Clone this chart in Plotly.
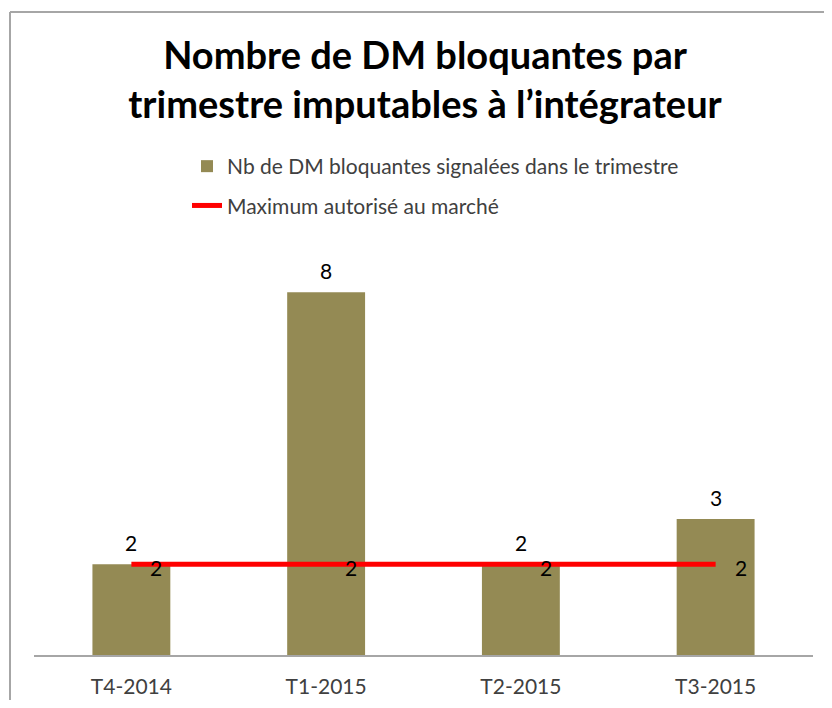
import plotly.graph_objects as go

# Data
categories = ["T4-2014", "T1-2015", "T2-2015", "T3-2015"]
dm_bloquantes = [2, 8, 2, 3]
maximum_autorise = [2, 2, 2, 2]
bar_name = "Nb de DM bloquantes signalées dans le trimestre"
line_name = "Maximum autorisé au marché"
title_text = "Nombre de DM bloquantes par<br>trimestre imputables à l’intégrateur"

FONT = "Lato, Calibri, Carlito, sans-serif"
OLIVE = "#948A54"
RED = "#FF0000"

# page has an 8px body margin -> figure is 816x692
W, H = 816, 692
L, R, T, B = 26, 11, 239, 45
pw, ph = W - L - R, H - T - B


def px(x):
    return (x - L) / pw


def py(y):
    return (H - B - y) / ph


fig = go.Figure()
fig.add_trace(go.Bar(
    x=categories, y=dm_bloquantes, name=bar_name,
    marker=dict(color=OLIVE, line=dict(width=0)),
    width=0.4, legendgroup="a",
))
fig.add_trace(go.Scatter(
    x=categories, y=maximum_autorise, name=line_name, mode="lines",
    line=dict(color=RED, width=5), legendgroup="b",
))

annotations = []
for c, v in zip(categories, dm_bloquantes):
    annotations.append(dict(x=c, y=v, text=str(v), showarrow=False,
                            yshift=22, font=dict(family=FONT, size=21, color="#000000")))
for c, v in zip(categories, maximum_autorise):
    annotations.append(dict(x=c, y=v, text=str(v), showarrow=False,
                            xshift=25, yshift=-3, font=dict(family=FONT, size=21, color="#000000")))

shapes = [
    dict(type="line", xref="paper", yref="paper", x0=px(2), x1=px(830), y0=py(4), y1=py(4),
         line=dict(color="#A6A6A6", width=2)),
    dict(type="line", xref="paper", yref="paper", x0=px(2), x1=px(2), y0=py(4), y1=py(710),
         line=dict(color="#A6A6A6", width=2)),
]

fig.update_layout(
    width=W, height=H,
    margin=dict(l=L, r=R, t=T, b=B, autoexpand=False),
    paper_bgcolor="white", plot_bgcolor="white",
    font=dict(family=FONT, color="#404040", size=21),
    title=dict(text=title_text, x=417 / W, xref="container", xanchor="center",
               y=1 - 61 / H, yref="container", yanchor="top",
               font=dict(family=FONT, size=38, color="#000000", weight="bold")),
    showlegend=True,
    legend=dict(x=px(179), y=py(138), xanchor="left", yanchor="top",
                orientation="v", traceorder="grouped", tracegroupgap=9,
                font=dict(family=FONT, size=21, color="#404040"),
                bgcolor="rgba(0,0,0,0)"),
    xaxis=dict(showline=True, linecolor="#A6A6A6", linewidth=2, showgrid=False,
               ticks="", ticklabelstandoff=12, automargin=False,
               tickfont=dict(family=FONT, size=21, color="#404040"), zeroline=False),
    yaxis=dict(range=[0, 9], visible=False, showgrid=False, zeroline=False,
               automargin=False),
    annotations=annotations,
    shapes=shapes,
    bargap=0.6,
)

fig.write_html("out.html")
